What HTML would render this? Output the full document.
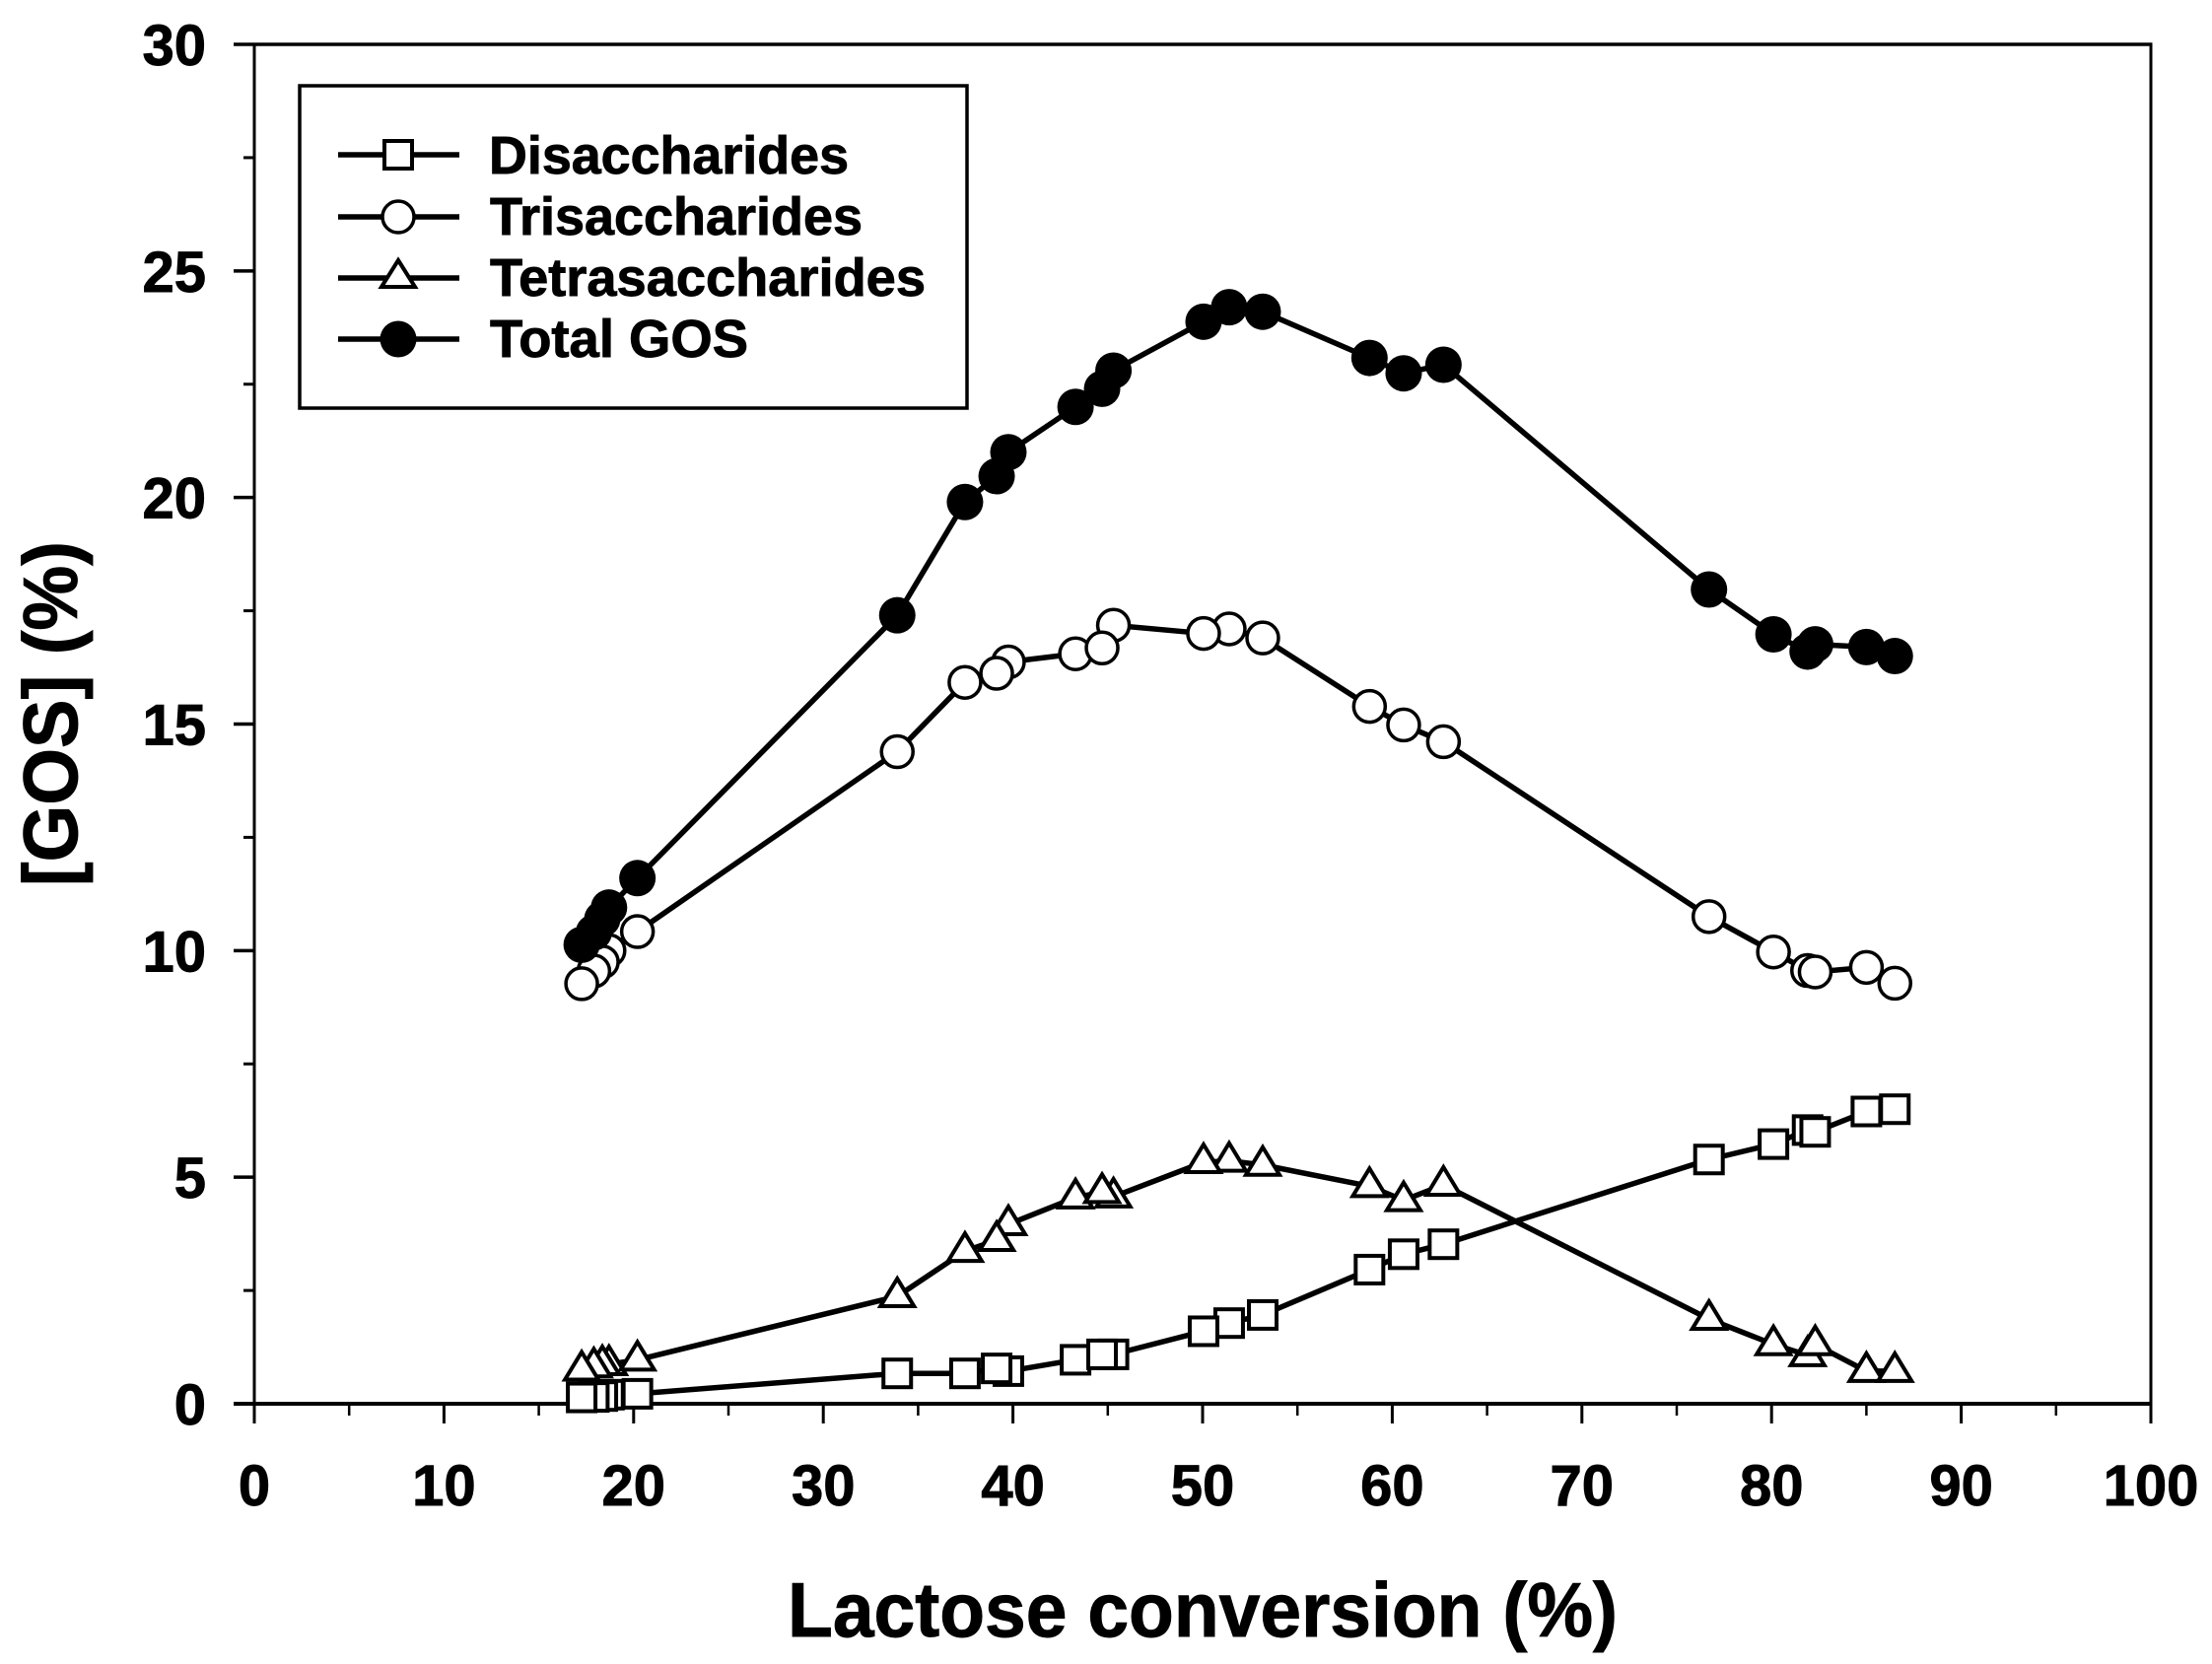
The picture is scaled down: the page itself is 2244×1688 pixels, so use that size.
<!DOCTYPE html>
<html>
<head>
<meta charset="utf-8">
<title>GOS vs Lactose conversion</title>
<style>
html,body{margin:0;padding:0;background:#fff;}
svg{display:block;}
text{font-family:"Liberation Sans",Arial,sans-serif;font-weight:bold;fill:#000;stroke:#000;stroke-width:0.9px;}
</style>
</head>
<body>
<svg id="chart" xmlns="http://www.w3.org/2000/svg" width="2244" height="1688" viewBox="0 0 2244 1688">
  <rect x="0" y="0" width="2244" height="1688" fill="#fff"/>
  <g id="axes"></g>
  <g id="series"></g>

  <g>
    <rect x="304" y="87" width="677" height="327" fill="#fff" stroke="#000" stroke-width="3.5"/>
    <g>
      <line x1="343" y1="157" x2="466" y2="157" stroke="#000" stroke-width="5.5"/>
      <rect x="390" y="143" width="28" height="28" fill="#fff" stroke="#000" stroke-width="4"/>
      <text x="496" y="176" font-size="54" textLength="365" lengthAdjust="spacingAndGlyphs">Disaccharides</text>
    </g>
    <g>
      <line x1="343" y1="220" x2="466" y2="220" stroke="#000" stroke-width="5.5"/>
      <circle cx="404" cy="220" r="16" fill="#fff" stroke="#000" stroke-width="3.500"/>
      <text x="497" y="238" font-size="54" textLength="378" lengthAdjust="spacingAndGlyphs">Trisaccharides</text>
    </g>
    <g>
      <line x1="343" y1="282" x2="466" y2="282" stroke="#000" stroke-width="5.5"/>
      <polygon points="404,264 421,291 387,291" fill="#fff" stroke="#000" stroke-width="4"/>
      <text x="497" y="300" font-size="54" textLength="442" lengthAdjust="spacingAndGlyphs">Tetrasaccharides</text>
    </g>
    <g>
      <line x1="343" y1="344" x2="466" y2="344" stroke="#000" stroke-width="5.5"/>
      <circle cx="404" cy="344" r="18.500" fill="#000"/>
      <text x="497" y="362" font-size="54" textLength="262" lengthAdjust="spacingAndGlyphs">Total GOS</text>
    </g>
  </g>

  <text x="1220" y="1660" font-size="78" text-anchor="middle" textLength="842" lengthAdjust="spacingAndGlyphs">Lactose conversion (%)</text>
  <text transform="translate(78,724) rotate(-90)" x="0" y="0" font-size="78" text-anchor="middle" textLength="350" lengthAdjust="spacingAndGlyphs">[GOS] (%)</text>
</svg>

<script>
const xTickLabels = [0, 10, 20, 30, 40, 50, 60, 70, 80, 90, 100];
const yTickLabels = [0, 5, 10, 15, 20, 25, 30];

const conversion = [18.7, 18.35, 17.9, 17.26, 20.2, 33.9, 37.47, 39.76, 39.14, 43.3, 45.3, 44.7, 51.4, 50.05, 53.17, 58.8, 60.6, 62.7, 76.7, 80.1, 81.9, 82.3, 85, 86.5];
const disaccharides = [0.2, 0.17, 0.15, 0.14, 0.22, 0.67, 0.67, 0.72, 0.78, 0.97, 1.09, 1.09, 1.78, 1.6, 1.96, 2.96, 3.3, 3.52, 5.39, 5.73, 6.04, 6.0, 6.45, 6.5];
const trisaccharides = [10.0, 9.75, 9.55, 9.27, 10.42, 14.39, 15.92, 16.37, 16.12, 16.55, 17.18, 16.68, 17.1, 17.0, 16.9, 15.39, 14.98, 14.61, 10.75, 9.97, 9.56, 9.53, 9.63, 9.28];
const tetrasaccharides = [0.87, 0.87, 0.82, 0.75, 0.97, 2.37, 3.37, 3.96, 3.61, 4.55, 4.57, 4.67, 5.36, 5.33, 5.27, 4.8, 4.49, 4.83, 1.87, 1.31, 1.07, 1.31, 0.72, 0.72];
const totalGos = [10.95, 10.7, 10.4, 10.13, 11.6, 17.4, 19.9, 21.0, 20.47, 22.0, 22.8, 22.4, 24.2, 23.88, 24.1, 23.08, 22.74, 22.93, 17.97, 16.98, 16.6, 16.76, 16.7, 16.5];

const NS = 'http://www.w3.org/2000/svg';
const plot = { left: 258, right: 2182, top: 45, bottom: 1424 };
const xMax = 100;
const yMax = 30;
const xScale = v => plot.left + (v / xMax) * (plot.right - plot.left);
const yScale = v => plot.bottom - (v / yMax) * (plot.bottom - plot.top);

function make(parent, tag, props) {
  const el = document.createElementNS(NS, tag);
  for (const k in props) el.setAttribute(k, props[k]);
  parent.appendChild(el);
  return el;
}

const axes = document.getElementById('axes');

const frameTop = make(axes, 'line', { x1: 237, y1: plot.top, x2: plot.right + 1.5, y2: plot.top, stroke: '#000', 'stroke-width': 3.5 });


const frameRight = make(axes, 'line', { x1: plot.right, y1: plot.top, x2: plot.right, y2: plot.bottom, stroke: '#000', 'stroke-width': 3 });


const yAxisLine = make(axes, 'line', { x1: plot.left, y1: plot.top, x2: plot.left, y2: plot.bottom, stroke: '#000', 'stroke-width': 3 });


const xAxisLine = make(axes, 'line', { x1: 237, y1: plot.bottom, x2: plot.right + 1.5, y2: plot.bottom, stroke: '#000', 'stroke-width': 4 });



xTickLabels.forEach(function (v, i) {
  const x = xScale(v);
  const tick = make(axes, 'line', { x1: x, y1: plot.bottom, x2: x, y2: 1444, stroke: '#000', 'stroke-width': 3 });
  
  
  const label = make(axes, 'text', { x: x, y: 1527, 'font-size': 58, 'text-anchor': 'middle' });
  
  
  label.textContent = v;
  if (i < xTickLabels.length - 1) {
    const mx = xScale(v + (xTickLabels[1] - xTickLabels[0]) / 2);
    const minor = make(axes, 'line', { x1: mx, y1: plot.bottom, x2: mx, y2: 1436, stroke: '#000', 'stroke-width': 2.5 });
    
    
  }
});

yTickLabels.forEach(function (v, i) {
  const y = yScale(v);
  if (v > 0 && v < yMax) {
    const tick = make(axes, 'line', { x1: 237, y1: y, x2: plot.left, y2: y, stroke: '#000', 'stroke-width': 3.5 });
    
    
  }
  const label = make(axes, 'text', { x: 209, y: y + 21, 'font-size': 58, 'text-anchor': 'end' });
  
  
  label.textContent = v;
  if (i < yTickLabels.length - 1) {
    const my = yScale(v + (yTickLabels[1] - yTickLabels[0]) / 2);
    const minor = make(axes, 'line', { x1: 247, y1: my, x2: plot.left, y2: my, stroke: '#000', 'stroke-width': 3 });
    
    
  }
});

const seriesRoot = document.getElementById('series');

function drawMarker(group, kind, cx, cy) {
  if (kind === 'square') {
    return make(group, 'rect', { x: cx - 14, y: cy - 14, width: 28, height: 28, fill: '#fff', stroke: '#000', 'stroke-width': 4 });
  }
  if (kind === 'circle') {
    return make(group, 'circle', { cx: cx, cy: cy, r: 16, fill: '#fff', stroke: '#000', 'stroke-width': 3.5 });
  }
  if (kind === 'triangle') {
    const pts = [cx, cy - 18, cx + 17, cy + 10, cx - 17, cy + 10].join(' ');
    return make(group, 'polygon', { points: pts, fill: '#fff', stroke: '#000', 'stroke-width': 4 });
  }
  return make(group, 'circle', { cx: cx, cy: cy, r: 18.5, fill: '#000' });
}

function drawSeries(name, values, kind) {
  const group = make(seriesRoot, 'g', {});
  
  
  const order = conversion.map(function (_, i) { return i; }).sort(function (a, b) { return conversion[a] - conversion[b]; });
  const pts = order.map(function (i) { return xScale(conversion[i]) + ',' + yScale(values[i]); }).join(' ');
  const line = make(group, 'polyline', { points: pts, fill: 'none', stroke: '#000', 'stroke-width': 5.5, 'stroke-linejoin': 'round' });
  
  
  values.forEach(function (v, i) {
    const marker = drawMarker(group, kind, xScale(conversion[i]), yScale(v));
    
    
  });
}

drawSeries('tetrasaccharides', tetrasaccharides, 'triangle');
drawSeries('disaccharides', disaccharides, 'square');
drawSeries('trisaccharides', trisaccharides, 'circle');
drawSeries('total-gos', totalGos, 'filled');
</script>
</body>
</html>
